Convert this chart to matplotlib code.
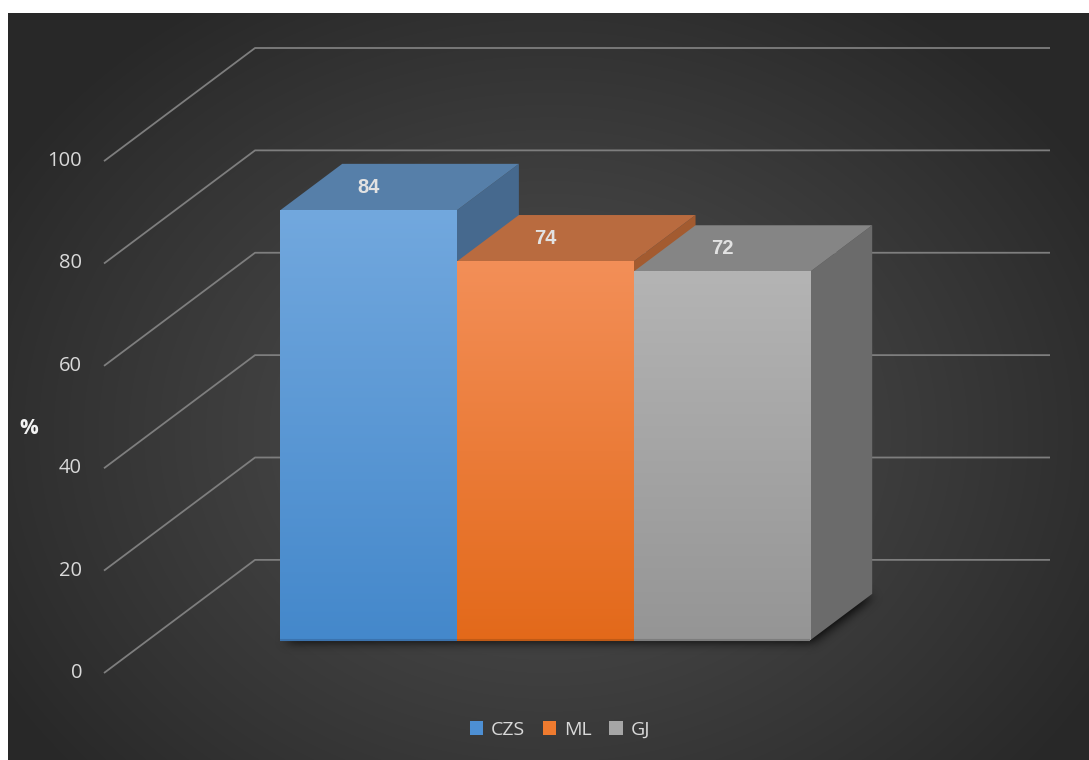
import numpy as np
import matplotlib
matplotlib.use("Agg")
import matplotlib.pyplot as plt
from matplotlib.patches import Polygon, Patch
from matplotlib.path import Path
from matplotlib.transforms import offset_copy
from matplotlib.colors import to_rgb

# ---- data -------------------------------------------------------------
series = ["CZS", "ML", "GJ"]
values = [84, 74, 72]
y_ticks = [0, 20, 40, 60, 80, 100]
y_label = "%"

# ---- colours ----------------------------------------------------------
front_top = ["#72a8de", "#f38f58", "#b4b4b4"]
front_bottom = ["#4488cb", "#e3691a", "#959595"]
edge_bottom = ["#3b73ae", "#c05a16", "#7d7d7d"]
top_colors = ["#567fa9", "#b96b3f", "#858585"]
side_colors = ["#46698e", "#a35b30", "#6b6b6b"]
legend_colors = ["#4d8fd3", "#ef7b2f", "#a6a6a6"]
grid_color = "#7e7e7e"
text_color = "#d9d9d9"

# ---- oblique 3-D geometry --------------------------------------------
DEPTH_X = 0.855      # x shift (bar widths) from back wall to front plane
DEPTH_Y = 22.1       # y shift (value units) from back wall to front plane
K_FRONT = 0.71       # depth of the bar front faces (1 = front plane)
K_BACK = 0.30        # depth of the bar back faces
GAP = 0.75           # half of the gap around the bar group (bar widths)
WALL_W = len(series) + 2 * GAP


def proj(x, y, k):
    """Project a point at depth k (0 = back wall, 1 = front plane)."""
    return (x - k * DEPTH_X, y - k * DEPTH_Y)


fig = plt.figure(figsize=(10.89, 7.60), dpi=100)
fig.patch.set_facecolor("white")

# ---- radial background ------------------------------------------------
bg = fig.add_axes([8 / 1089, 0, 1081 / 1089, 747 / 760])
bg.set_axis_off()
H, W = 747, 1081
yy, xx = np.mgrid[0:H, 0:W]
cx, cy = 540, 420
r = np.sqrt(((xx - cx) / 640.0) ** 2 + ((yy - cy) / 520.0) ** 2)
r = np.clip(r, 0, 1) ** 1.15
c_in, c_out = 79 / 255, 40 / 255
g = c_in + (c_out - c_in) * r
bg.imshow(np.dstack([g, g, g]), aspect="auto", interpolation="bilinear",
          extent=[0, 1, 0, 1], origin="upper")
bg.set_xlim(0, 1)
bg.set_ylim(0, 1)

# ---- main axes -------------------------------------------------------
ax = fig.add_axes([104 / 1089, 87 / 760, 946 / 1089, 625 / 760])
ax.set_xlim(-DEPTH_X, WALL_W)
ax.set_ylim(-DEPTH_Y, 100)
ax.set_axis_off()
ax.patch.set_alpha(0)

# gridlines: diagonal on the side wall, horizontal on the back wall
for v in y_ticks:
    ax.plot([-DEPTH_X, 0, WALL_W], [v - DEPTH_Y, v, v], color=grid_color,
            lw=1.3, zorder=1, clip_on=False, solid_capstyle="butt")
    ax.text(*proj(0, v, 1), str(v),
            transform=offset_copy(ax.transData, fig=fig, x=-22, y=0, units="dots"),
            ha="right", va="center", fontsize=14.5, color=text_color,
            family="Open Sans")

fig.text(29 / 1089, 1 - 428 / 760, y_label, ha="center", va="center",
         fontsize=15, fontweight="bold", color="#f2f2f2", family="Open Sans")

# ---- soft floor shadow under the bar group -----------------------------
x_start, x_end = GAP, GAP + len(series)
foot = [proj(x_start, 0, K_FRONT), proj(x_end, 0, K_FRONT),
        proj(x_end, 0, K_BACK), proj(x_start, 0, K_BACK)]
foot_px = ax.transData.transform(foot) + np.array([2.0, -3.0])
pad = 30
x_lo, y_lo = foot_px.min(axis=0) - pad
x_hi, y_hi = foot_px.max(axis=0) + pad
gx = np.arange(x_lo, x_hi)
gy = np.arange(y_lo, y_hi)
PX, PY = np.meshgrid(gx, gy)
inside = Path(foot_px).contains_points(np.c_[PX.ravel(), PY.ravel()])
mask = inside.reshape(PX.shape).astype(float)
sig = 5.0
kx = np.arange(-15, 16)
kern = np.exp(-kx ** 2 / (2 * sig ** 2))
kern /= kern.sum()
mask = np.apply_along_axis(lambda m: np.convolve(m, kern, mode="same"), 0, mask)
mask = np.apply_along_axis(lambda m: np.convolve(m, kern, mode="same"), 1, mask)
shadow = np.zeros(mask.shape + (4,))
shadow[..., 3] = np.clip(mask * 0.85, 0, 1)
inv = ax.transData.inverted()
(dx0, dy0), (dx1, dy1) = inv.transform([(x_lo, y_lo), (x_hi, y_hi)])
ax.imshow(shadow, extent=[dx0, dx1, dy0, dy1], origin="lower",
          aspect="auto", interpolation="bilinear", zorder=2)

# ---- bars -------------------------------------------------------------
for i, (name, v) in enumerate(zip(series, values)):
    x0, x1 = GAP + i, GAP + i + 1
    z = 3 + i * 4

    side = [proj(x1, 0, K_FRONT), proj(x1, 0, K_BACK),
            proj(x1, v, K_BACK), proj(x1, v, K_FRONT)]
    ax.add_patch(Polygon(side, closed=True, facecolor=side_colors[i],
                         edgecolor="none", zorder=z))

    top = [proj(x0, v, K_FRONT), proj(x1, v, K_FRONT),
           proj(x1, v, K_BACK), proj(x0, v, K_BACK)]
    ax.add_patch(Polygon(top, closed=True, facecolor=top_colors[i],
                         edgecolor="none", zorder=z + 1))

    fx0, fy0 = proj(x0, 0, K_FRONT)
    fx1, fy1 = proj(x1, v, K_FRONT)
    c_t, c_b = np.array(to_rgb(front_top[i])), np.array(to_rgb(front_bottom[i]))
    t = np.linspace(0, 1, 256)[:, None]
    grad = (c_b + (c_t - c_b) * t)[:, None, :]
    ax.imshow(grad, extent=[fx0, fx1, fy0, fy1], origin="lower",
              aspect="auto", interpolation="bilinear", zorder=z + 2)
    ax.plot([fx0, fx1], [fy0, fy0], color=edge_bottom[i], lw=1.5,
            zorder=z + 2.5, solid_capstyle="butt")

    lx = (x0 + x1) / 2 - K_FRONT * DEPTH_X
    ly = v - (K_FRONT + K_BACK) / 2 * DEPTH_Y
    ax.text(lx, ly, str(v), ha="center", va="center", fontsize=14.5,
            fontweight="bold", color="#e2e2e2", family="Liberation Sans",
            zorder=30)

ax.set_xlim(-DEPTH_X, WALL_W)
ax.set_ylim(-DEPTH_Y, 100)

# ---- legend -----------------------------------------------------------
handles = [Patch(facecolor=c, edgecolor="none", label=s)
           for s, c in zip(series, legend_colors)]
fig.legend(handles=handles, loc="center", bbox_to_anchor=(560 / 1089, 1 - 730 / 760),
           ncol=3, frameon=False, labelcolor=text_color,
           prop={"family": "Open Sans", "size": 14},
           handlelength=0.7, handleheight=0.7, handletextpad=0.4,
           columnspacing=0.9)

fig.savefig("out.png", dpi=100, facecolor=fig.get_facecolor())
